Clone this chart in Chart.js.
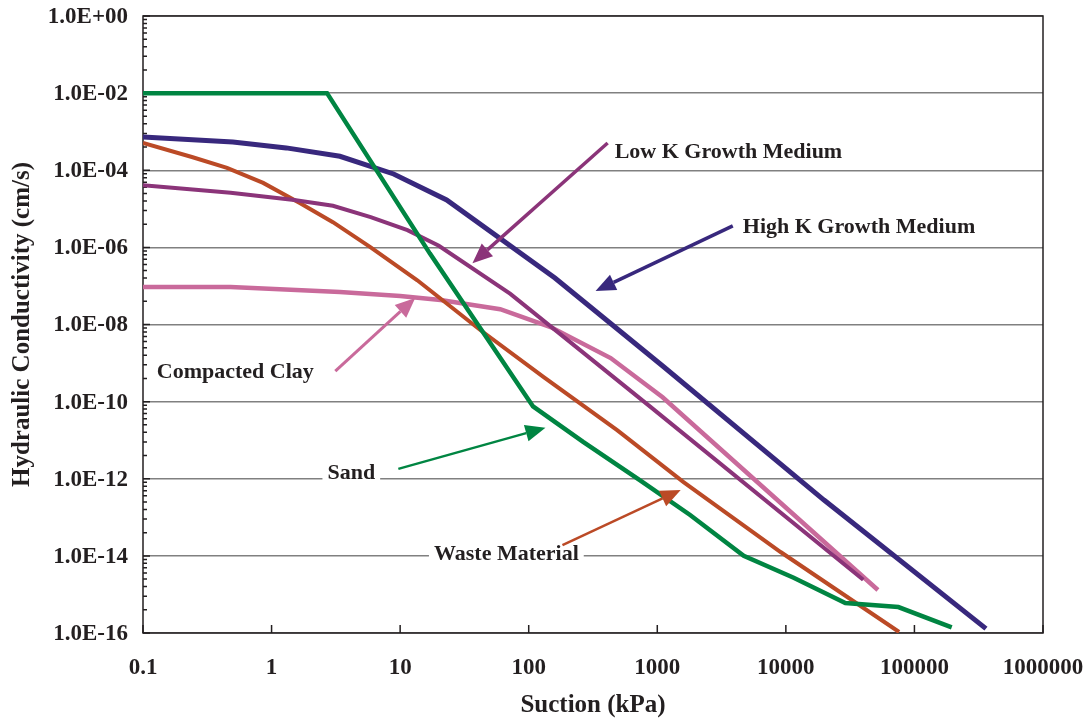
<!DOCTYPE html>
<html>
<head>
<meta charset="utf-8">
<title>Hydraulic Conductivity vs Suction</title>
<script src="https://cdn.jsdelivr.net/npm/chart.js@4.4.1/dist/chart.umd.min.js"></script>
<style>
  body { margin: 0; background: #fff; }
  #wrap { width: 1086px; height: 721px; }
</style>
</head>
<body>
<div id="wrap"><canvas id="kChart" width="1086" height="721"></canvas></div>
<script>
// suction (kPa) / hydraulic conductivity (cm/s)
const sandX = [0.1, 2.7, 17, 108, 265, 740, 1800, 4700, 11500, 29000, 75000, 195000];
const sandY = [1e-2, 1e-2, 7e-7, 7.5e-11, 9e-12, 9e-13, 1.15e-13, 1e-14, 2.7e-15, 6e-16, 4.7e-16, 1.4e-16];

const highKX = [0.1, 0.5, 1.3, 3.4, 8.9, 23, 160, 1120, 19800, 360000];
const highKY = [7.3e-4, 5.4e-4, 3.8e-4, 2.3e-4, 8e-5, 1.7e-5, 1.6e-7, 8e-10, 2.8e-13, 1.3e-16];

const lowKX = [0.1, 0.48, 1.5, 3.0, 5.9, 11.4, 20, 72, 890, 40000];
const lowKY = [4.1e-5, 2.6e-5, 1.7e-5, 1.2e-5, 6.1e-6, 2.8e-6, 1.1e-6, 6.2e-8, 7.2e-11, 2.4e-15];

const clayX = [0.1, 0.48, 3.4, 10, 20.6, 60, 148, 434, 1100, 52000];
const clayY = [9.4e-8, 9.4e-8, 7e-8, 5.5e-8, 4.3e-8, 2.5e-8, 8.6e-9, 1.35e-9, 1.3e-10, 1.3e-15];

const wasteX = [0.1, 0.24, 0.45, 0.86, 1.67, 3.0, 5.9, 13.6, 42, 130, 490, 1600, 9100, 76000];
const wasteY = [5.1e-4, 2.2e-4, 1.15e-4, 4.7e-5, 1.4e-5, 4.5e-6, 1.0e-6, 1.4e-7, 7.2e-9, 4.4e-10, 1.8e-11, 8.2e-13, 1.26e-14, 1.06e-16];

const xTicks = [0.1, 1, 10, 100, 1000, 10000, 100000, 1000000];
const xTickLabels = ['0.1', '1', '10', '100', '1000', '10000', '100000', '1000000'];
const yTicks = [1, 1e-2, 1e-4, 1e-6, 1e-8, 1e-10, 1e-12, 1e-14, 1e-16];
const yTickLabels = ['1.0E+00', '1.0E-02', '1.0E-04', '1.0E-06', '1.0E-08', '1.0E-10', '1.0E-12', '1.0E-14', '1.0E-16'];

const SAND = '#008542', HIGHK = '#38287d', LOWK = '#8b3479', CLAY = '#c96a9b', WASTE = '#bb4a26';
const INK = '#231f20';
const SERIF = '"Liberation Serif", "Times New Roman", serif';

// callout labels, placed in data coordinates
const notes = [
  { text: 'Low K Growth Medium', at: [466, 3e-4], align: 'left', color: LOWK, from: [411, 5.1e-4], to: [36.5, 3.9e-7], lw: 3.5 },
  { text: 'High K Growth Medium', at: [4624, 3.4e-6], align: 'left', color: HIGHK, from: [3865, 3.6e-6], to: [331, 7.4e-8], lw: 3.5 },
  { text: 'Compacted Clay', at: [0.128, 5.9e-10], align: 'left', color: CLAY, from: [3.13, 6.2e-10], to: [13.1, 4.9e-8], lw: 3 },
  { text: 'Sand', at: [4.17, 1.4e-12], align: 'center', bg: true, color: SAND, from: [9.68, 1.8e-12], to: [135, 2.1e-11], lw: 2.5 },
  { text: 'Waste Material', at: [67, 1.1e-14], align: 'center', bg: true, color: WASTE, from: [183, 1.9e-14], to: [1521, 5.1e-13], lw: 2.5 }
];

const toPoints = (xs, ys) => xs.map((v, i) => ({ x: v, y: ys[i] }));

function series(label, xs, ys, color, width, order) {
  return {
    label: label,
    data: toPoints(xs, ys),
    borderColor: color,
    backgroundColor: color,
    borderWidth: width,
    pointRadius: 0,
    tension: 0,
    fill: false,
    order: order
  };
}

function arrow(ctx, x1, y1, x2, y2, color, lw) {
  const ang = Math.atan2(y2 - y1, x2 - x1);
  const len = 20, half = 8.5;
  const bx = x2 - len * Math.cos(ang), by = y2 - len * Math.sin(ang);
  ctx.strokeStyle = color;
  ctx.fillStyle = color;
  ctx.lineWidth = lw;
  ctx.beginPath();
  ctx.moveTo(x1, y1);
  ctx.lineTo(bx, by);
  ctx.stroke();
  ctx.beginPath();
  ctx.moveTo(x2, y2);
  ctx.lineTo(bx + half * Math.sin(ang), by - half * Math.cos(ang));
  ctx.lineTo(bx - half * Math.sin(ang), by + half * Math.cos(ang));
  ctx.closePath();
  ctx.fill();
}

const decor = {
  id: 'decor',
  beforeDatasetsDraw(chart) {
    const { ctx, chartArea: a, scales: { x, y } } = chart;
    ctx.save();
    ctx.strokeStyle = INK;
    ctx.lineWidth = 1.5;
    ctx.beginPath();
    for (let i = 0; i < yTicks.length - 1; i++) {
      const base = yTicks[i + 1];
      for (let k = 2; k <= 9; k++) {
        const py = y.getPixelForValue(base * k * k);
        ctx.moveTo(a.left, py);
        ctx.lineTo(a.left + 4, py);
      }
    }
    yTicks.forEach(v => {
      const py = y.getPixelForValue(v);
      ctx.moveTo(a.left, py);
      ctx.lineTo(a.left + 7, py);
    });
    xTicks.forEach(v => {
      const px = x.getPixelForValue(v);
      ctx.moveTo(px, a.bottom);
      ctx.lineTo(px, a.bottom - 8);
    });
    ctx.stroke();
    ctx.strokeRect(a.left, a.top, a.right - a.left, a.bottom - a.top);
    ctx.restore();
  },
  afterDraw(chart) {
    const { ctx, chartArea: a, scales: { x, y } } = chart;
    ctx.save();
    ctx.fillStyle = INK;

    // tick labels
    ctx.font = 'bold 23px ' + SERIF;
    ctx.textAlign = 'right';
    ctx.textBaseline = 'middle';
    yTicks.forEach((v, i) => ctx.fillText(yTickLabels[i], a.left - 15, y.getPixelForValue(v) + 1));
    ctx.textAlign = 'center';
    xTicks.forEach((v, i) => ctx.fillText(xTickLabels[i], x.getPixelForValue(v), a.bottom + 35));

    // axis titles
    ctx.font = 'bold 25px ' + SERIF;
    ctx.fillText('Suction (kPa)', (a.left + a.right) / 2, a.bottom + 73);
    ctx.save();
    ctx.translate(23, (a.top + a.bottom) / 2);
    ctx.rotate(-Math.PI / 2);
    ctx.fillText('Hydraulic Conductivity (cm/s)', 0, 0);
    ctx.restore();

    // callouts
    ctx.font = 'bold 22px ' + SERIF;
    notes.forEach(n => {
      const tx = x.getPixelForValue(n.at[0]), ty = y.getPixelForValue(n.at[1]);
      ctx.textAlign = n.align;
      if (n.bg) {
        const w = ctx.measureText(n.text).width;
        const left = n.align === 'center' ? tx - w / 2 : tx;
        ctx.fillStyle = '#fff';
        ctx.fillRect(left - 5, ty - 11, w + 10, 22);
      }
      ctx.fillStyle = INK;
      ctx.fillText(n.text, tx, ty);
      arrow(ctx, x.getPixelForValue(n.from[0]), y.getPixelForValue(n.from[1]),
        x.getPixelForValue(n.to[0]), y.getPixelForValue(n.to[1]), n.color, n.lw);
    });
    ctx.restore();
  }
};

new Chart(document.getElementById('kChart'), {
  type: 'line',
  data: {
    datasets: [
      series('Sand', sandX, sandY, SAND, 4.5, 1),
      series('Low K Growth Medium', lowKX, lowKY, LOWK, 4, 2),
      series('Waste Material', wasteX, wasteY, WASTE, 4, 3),
      series('Compacted Clay', clayX, clayY, CLAY, 4.5, 4),
      series('High K Growth Medium', highKX, highKY, HIGHK, 5, 5)
    ]
  },
  options: {
    responsive: false,
    animation: false,
    layout: { padding: { left: 143, top: 16, right: 43, bottom: 88 } },
    plugins: { legend: { display: false }, tooltip: { enabled: false } },
    scales: {
      x: {
        type: 'logarithmic',
        min: 0.1,
        max: 1000000,
        afterBuildTicks: s => { s.ticks = xTicks.map(v => ({ value: v })); },
        ticks: { display: false },
        grid: { display: false, drawTicks: false },
        border: { display: false }
      },
      y: {
        type: 'logarithmic',
        min: 1e-16,
        max: 1,
        afterBuildTicks: s => { s.ticks = yTicks.map(v => ({ value: v })); },
        ticks: { display: false },
        grid: { color: '#808080', lineWidth: 1.5, drawTicks: false },
        border: { display: false }
      }
    }
  },
  plugins: [decor]
});
</script>
</body>
</html>
